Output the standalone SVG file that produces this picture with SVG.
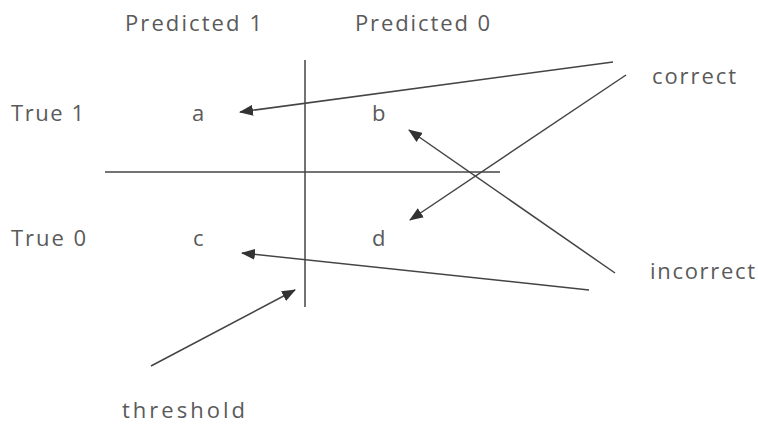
<svg xmlns="http://www.w3.org/2000/svg" width="758" height="435" viewBox="0 0 758 435">
<style>
text{font-family:"Open Sans","Noto Sans",sans-serif;font-size:22px;fill:#5a5a5a}
.ln{stroke:#444;stroke-width:1.5;fill:none}
.ar{stroke:#444;stroke-width:1.5;fill:none;marker-end:url(#ah)}
</style>
<defs>
<marker id="ah" viewBox="0 0 14 11" refX="13" refY="5.5" markerWidth="14" markerHeight="11" markerUnits="userSpaceOnUse" orient="auto">
<path d="M0,0 L14,5.5 L0,11 Z" fill="#333"/>
</marker>
</defs>
<rect width="758" height="435" fill="#fff"/>
<g id="header-pred1"><text x="125" y="31" textLength="137" lengthAdjust="spacing">Predicted 1</text></g>
<g id="header-pred0"><text x="355" y="31" textLength="135" lengthAdjust="spacing">Predicted 0</text></g>
<g id="row-true1"><text x="11" y="121" textLength="73" lengthAdjust="spacing">True 1</text></g>
<g id="row-true0"><text x="11" y="246" textLength="75" lengthAdjust="spacing">True 0</text></g>
<g id="cell-a"><text x="192" y="121">a</text></g>
<g id="cell-b"><text x="372" y="121">b</text></g>
<g id="cell-c"><text x="193" y="246">c</text></g>
<g id="cell-d"><text x="372" y="246">d</text></g>
<g id="label-correct"><text x="652" y="84" textLength="84" lengthAdjust="spacing">correct</text></g>
<g id="label-incorrect"><text x="650" y="279" textLength="105" lengthAdjust="spacing">incorrect</text></g>
<g id="label-threshold"><text x="122" y="418" textLength="123" lengthAdjust="spacing">threshold</text></g>
<g id="connectors">
<line class="ln" x1="305" y1="60" x2="305" y2="307"/>
<line class="ln" x1="105" y1="172" x2="500" y2="172"/>
<line class="ar" x1="613" y1="62" x2="240" y2="112"/>
<line class="ar" x1="626" y1="75" x2="410" y2="220"/>
<line class="ar" x1="615" y1="273" x2="409" y2="130"/>
<line class="ar" x1="589" y1="290" x2="242" y2="253"/>
<line class="ar" x1="151" y1="366" x2="295" y2="290"/>
</g>
</svg>
